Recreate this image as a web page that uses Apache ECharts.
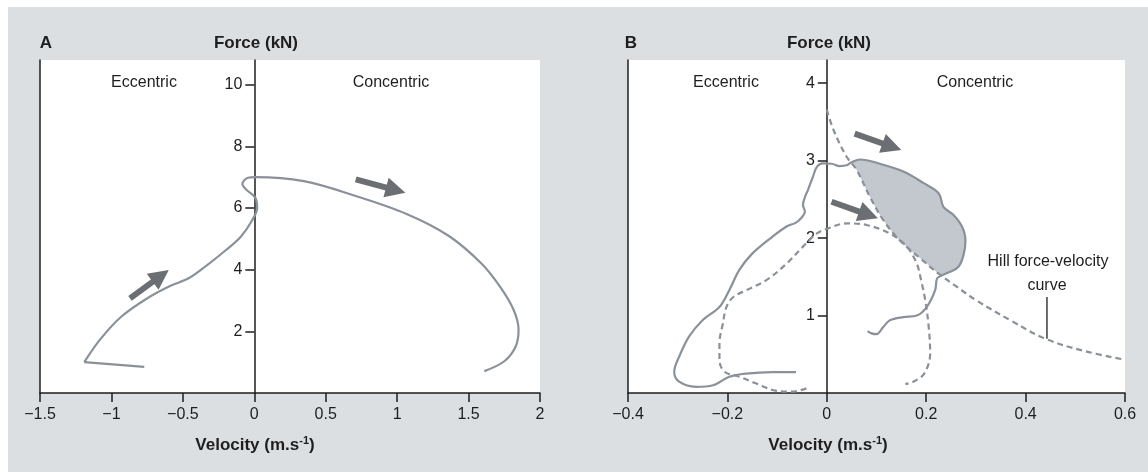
<!DOCTYPE html>
<html>
<head>
<meta charset="utf-8">
<script src="https://cdn.jsdelivr.net/npm/echarts@6/dist/echarts.min.js"></script>
<style>
html,body{margin:0;padding:0;background:#fff;}
#chart{width:1148px;height:472px;}
</style>
</head>
<body>
<div id="chart"></div>
<script>
// ---------- tick labels ----------
const xTicksA = [-1.5, -1, -0.5, 0, 0.5, 1, 1.5, 2];
const yTicksA = [2, 4, 6, 8, 10];
const xTicksB = [-0.4, -0.2, 0, 0.2, 0.4, 0.6];
const yTicksB = [1, 2, 3, 4];

// ---------- panel A: force-velocity trace ----------
const traceA_tail = [[-0.77, 0.85], [-1.19, 1.0]];
const traceA = [[-1.19, 1.0], [-1.08, 1.73], [-0.93, 2.48], [-0.75, 3.07], [-0.59, 3.47], [-0.46, 3.72],
  [-0.33, 4.15], [-0.20, 4.63], [-0.096, 5.06], [-0.018, 5.58], [0.02, 6.01], [0.008, 6.33],
  [-0.057, 6.6], [-0.083, 6.78], [-0.044, 6.98], [0.008, 7.0], [0.346, 6.87], [0.71, 6.39],
  [1.07, 5.8], [1.36, 5.1], [1.59, 4.2], [1.72, 3.45], [1.815, 2.7], [1.85, 2.05], [1.83, 1.51],
  [1.75, 1.03], [1.61, 0.71]];
const arrowsA = [[[-0.87, 3.07], [-0.655, 3.80]], [[0.71, 6.93], [0.99, 6.58]]];

// ---------- panel B ----------
const solidB = [[-0.062, 0.27], [-0.109, 0.27], [-0.163, 0.25], [-0.196, 0.21], [-0.229, 0.10],
  [-0.263, 0.08], [-0.297, 0.146], [-0.307, 0.275], [-0.297, 0.47], [-0.277, 0.73], [-0.25, 0.94],
  [-0.216, 1.11], [-0.196, 1.33], [-0.176, 1.59], [-0.15, 1.80], [-0.109, 2.02], [-0.081, 2.15],
  [-0.062, 2.2], [-0.05, 2.27], [-0.044, 2.34], [-0.048, 2.43], [-0.044, 2.53], [-0.038, 2.62],
  [-0.028, 2.79], [-0.02, 2.92], [-0.008, 2.965], [0.01, 2.96], [0.026, 2.93], [0.04, 2.94],
  [0.05, 2.98], [0.067, 3.015], [0.107, 2.96], [0.154, 2.86], [0.195, 2.71], [0.225, 2.58],
  [0.235, 2.40], [0.255, 2.30], [0.272, 2.15], [0.279, 1.97], [0.275, 1.78], [0.265, 1.63],
  [0.248, 1.565], [0.232, 1.52], [0.222, 1.48], [0.218, 1.33], [0.201, 1.11], [0.181, 1.0],
  [0.154, 0.98], [0.127, 0.94], [0.114, 0.855], [0.1, 0.76], [0.09, 0.77], [0.082, 0.80]];
const dashedB = [[-0.041, 0.06], [-0.07, 0.017], [-0.103, 0.03], [-0.143, 0.125], [-0.176, 0.21],
  [-0.206, 0.275], [-0.216, 0.43], [-0.216, 0.64], [-0.209, 0.90], [-0.202, 1.11], [-0.188, 1.24],
  [-0.161, 1.33], [-0.121, 1.46], [-0.081, 1.67], [-0.048, 1.89], [-0.02, 2.06], [0.0, 2.12],
  [0.04, 2.19], [0.08, 2.17], [0.127, 2.06], [0.161, 1.89], [0.181, 1.67], [0.19, 1.45],
  [0.198, 1.2], [0.205, 0.855], [0.208, 0.51], [0.196, 0.25], [0.174, 0.146], [0.158, 0.116]];
const hillB = [[0.0, 3.66], [0.014, 3.39], [0.04, 3.05], [0.06, 2.88], [0.087, 2.53], [0.114, 2.23],
  [0.147, 1.97], [0.188, 1.74], [0.225, 1.54], [0.262, 1.37], [0.3, 1.2], [0.372, 0.93],
  [0.44, 0.70], [0.52, 0.54], [0.6, 0.43]];
const shadedB = [[0.05, 2.98], [0.067, 3.015], [0.107, 2.96], [0.154, 2.86], [0.195, 2.71],
  [0.225, 2.58], [0.235, 2.40], [0.255, 2.30], [0.272, 2.15], [0.279, 1.97], [0.275, 1.78],
  [0.265, 1.63], [0.248, 1.565], [0.232, 1.52], [0.225, 1.54], [0.188, 1.74], [0.147, 1.97],
  [0.114, 2.23], [0.087, 2.53], [0.06, 2.88]];
const arrowsB = [[[0.056, 3.35], [0.131, 3.18]], [[0.0095, 2.47], [0.084, 2.30]]];
const hillPointer = [[0.443, 1.24], [0.443, 0.70]];

// ---------- styles ----------
const FONT = 'Liberation Sans, Arial, sans-serif';
const INK = '#1e1e1e';
const CURVE = '#8b9199';
const ARROW = '#6b6e73';
const GRID_A = { left: 40, top: 60, width: 500, height: 333 };
const GRID_B = { left: 628, top: 60, width: 497, height: 333 };

function xAxisCfg(grid, min, max, ticks) {
  return {
    gridIndex: grid, type: 'value', min: min, max: max,
    axisLine: { show: true, onZero: true, lineStyle: { color: INK, width: 1.5 } },
    axisTick: { show: true, length: 9, customValues: ticks, lineStyle: { color: INK, width: 1.5 } },
    axisLabel: { customValues: ticks, margin: 14, color: INK, fontSize: 16, fontFamily: FONT,
      formatter: v => String(v).replace('-', '\u2212') },
    splitLine: { show: false }
  };
}
// main y axis sits at velocity = 0 (offset derived from the x range and grid width)
function yAxisMain(grid, max, ticks, xmin, xmax, gridW) {
  const off = -((0 - xmin) / (xmax - xmin)) * gridW;
  return {
    gridIndex: grid, type: 'value', min: 0, max: max, position: 'left', offset: off,
    axisLine: { show: true, onZero: false, lineStyle: { color: INK, width: 1.5 } },
    axisTick: { show: true, length: 9, customValues: ticks, lineStyle: { color: INK, width: 1.5 } },
    axisLabel: { customValues: ticks, margin: 12, color: INK, fontSize: 16, fontFamily: FONT },
    splitLine: { show: false }
  };
}
function yAxisBorder(grid, max) {
  return {
    gridIndex: grid, type: 'value', min: 0, max: max, position: 'left', offset: 0,
    axisLine: { show: true, onZero: false, lineStyle: { color: INK, width: 1.5 } },
    axisTick: { show: false }, axisLabel: { show: false }, splitLine: { show: false }
  };
}
function lineSeries(xi, yi, data, dashed, extra) {
  return Object.assign({
    type: 'line', xAxisIndex: xi, yAxisIndex: yi, data: data, symbol: 'none',
    smooth: 0.35, silent: true, z: 3,
    lineStyle: { color: CURVE, width: 2.2, type: dashed ? [6, 4] : 'solid' }
  }, extra || {});
}
function arrowSeries(xi, yi, arr) {
  return {
    type: 'lines', coordinateSystem: 'cartesian2d', xAxisIndex: xi, yAxisIndex: yi,
    data: arr.map(a => ({ coords: a })), symbol: ['none', 'triangle'], symbolSize: 20,
    lineStyle: { color: ARROW, width: 6, opacity: 1, curveness: 0 }, silent: true, z: 4
  };
}
function txt(x, y, text, size, bold, align) {
  return { type: 'text', x: x, y: y, silent: true,
    style: { text: text, fill: INK, font: (bold ? 'bold ' : '') + size + 'px ' + FONT,
      align: align || 'center', verticalAlign: 'middle' } };
}
function velocityLabel(x, y) {
  return { type: 'text', x: x, y: y, silent: true,
    style: { text: '{a|Velocity (m.s}{b|-1}{a|)}', align: 'center', verticalAlign: 'middle',
      rich: { a: { fontSize: 17, fontWeight: 'bold', fontFamily: FONT, fill: INK, color: INK, lineHeight: 20 },
              b: { fontSize: 11, fontWeight: 'bold', fontFamily: FONT, fill: INK, color: INK, lineHeight: 12, verticalAlign: 'top' } } } };
}

const chart = echarts.init(document.getElementById('chart'), null, { renderer: 'canvas' });
chart.setOption({
  animation: false,
  backgroundColor: '#dcdfe2',
  grid: [
    Object.assign({ show: true, backgroundColor: '#ffffff', borderWidth: 0 }, GRID_A),
    Object.assign({ show: true, backgroundColor: '#ffffff', borderWidth: 0 }, GRID_B)
  ],
  xAxis: [xAxisCfg(0, -1.5, 2, xTicksA), xAxisCfg(1, -0.4, 0.6, xTicksB)],
  yAxis: [
    yAxisMain(0, 10.8, yTicksA, -1.5, 2, GRID_A.width), yAxisBorder(0, 10.8),
    yAxisMain(1, 4.3, yTicksB, -0.4, 0.6, GRID_B.width), yAxisBorder(1, 4.3)
  ],
  graphic: [
    { type: 'rect', left: 0, top: 0, shape: { width: 1148, height: 7 }, style: { fill: '#fff' }, silent: true },
    { type: 'rect', left: 0, top: 0, shape: { width: 8, height: 472 }, style: { fill: '#fff' }, silent: true },
    txt(46, 43, 'A', 17, true),
    txt(631, 43, 'B', 17, true),
    txt(256, 43, 'Force (kN)', 17, true),
    txt(829, 43, 'Force (kN)', 17, true),
    velocityLabel(255, 445),
    velocityLabel(828, 445),
    txt(144, 83, 'Eccentric', 16, false),
    txt(391, 83, 'Concentric', 16, false),
    txt(726, 83, 'Eccentric', 16, false),
    txt(975, 83, 'Concentric', 16, false),
    txt(1048, 262, 'Hill force-velocity', 16, false),
    txt(1047, 286, 'curve', 16, false)
  ],
  series: [
    lineSeries(0, 0, traceA_tail, false, { smooth: false }),
    lineSeries(0, 0, traceA, false),
    arrowSeries(0, 0, arrowsA),
    {
      type: 'custom', xAxisIndex: 1, yAxisIndex: 2, data: shadedB, silent: true, z: 2,
      renderItem: function (params, api) {
        if (params.dataIndex !== 0) return null;
        const pts = shadedB.map(p => api.coord(p));
        return { type: 'polygon', shape: { points: pts, smooth: 0.3 }, style: { fill: '#c3c7ce' } };
      }
    },
    lineSeries(1, 2, hillB, true, { smooth: 0.4 }),
    lineSeries(1, 2, dashedB, true),
    lineSeries(1, 2, solidB, false),
    lineSeries(1, 2, hillPointer, false, { smooth: false, lineStyle: { color: INK, width: 1.3 } }),
    arrowSeries(1, 2, arrowsB)
  ]
});
</script>
</body>
</html>
